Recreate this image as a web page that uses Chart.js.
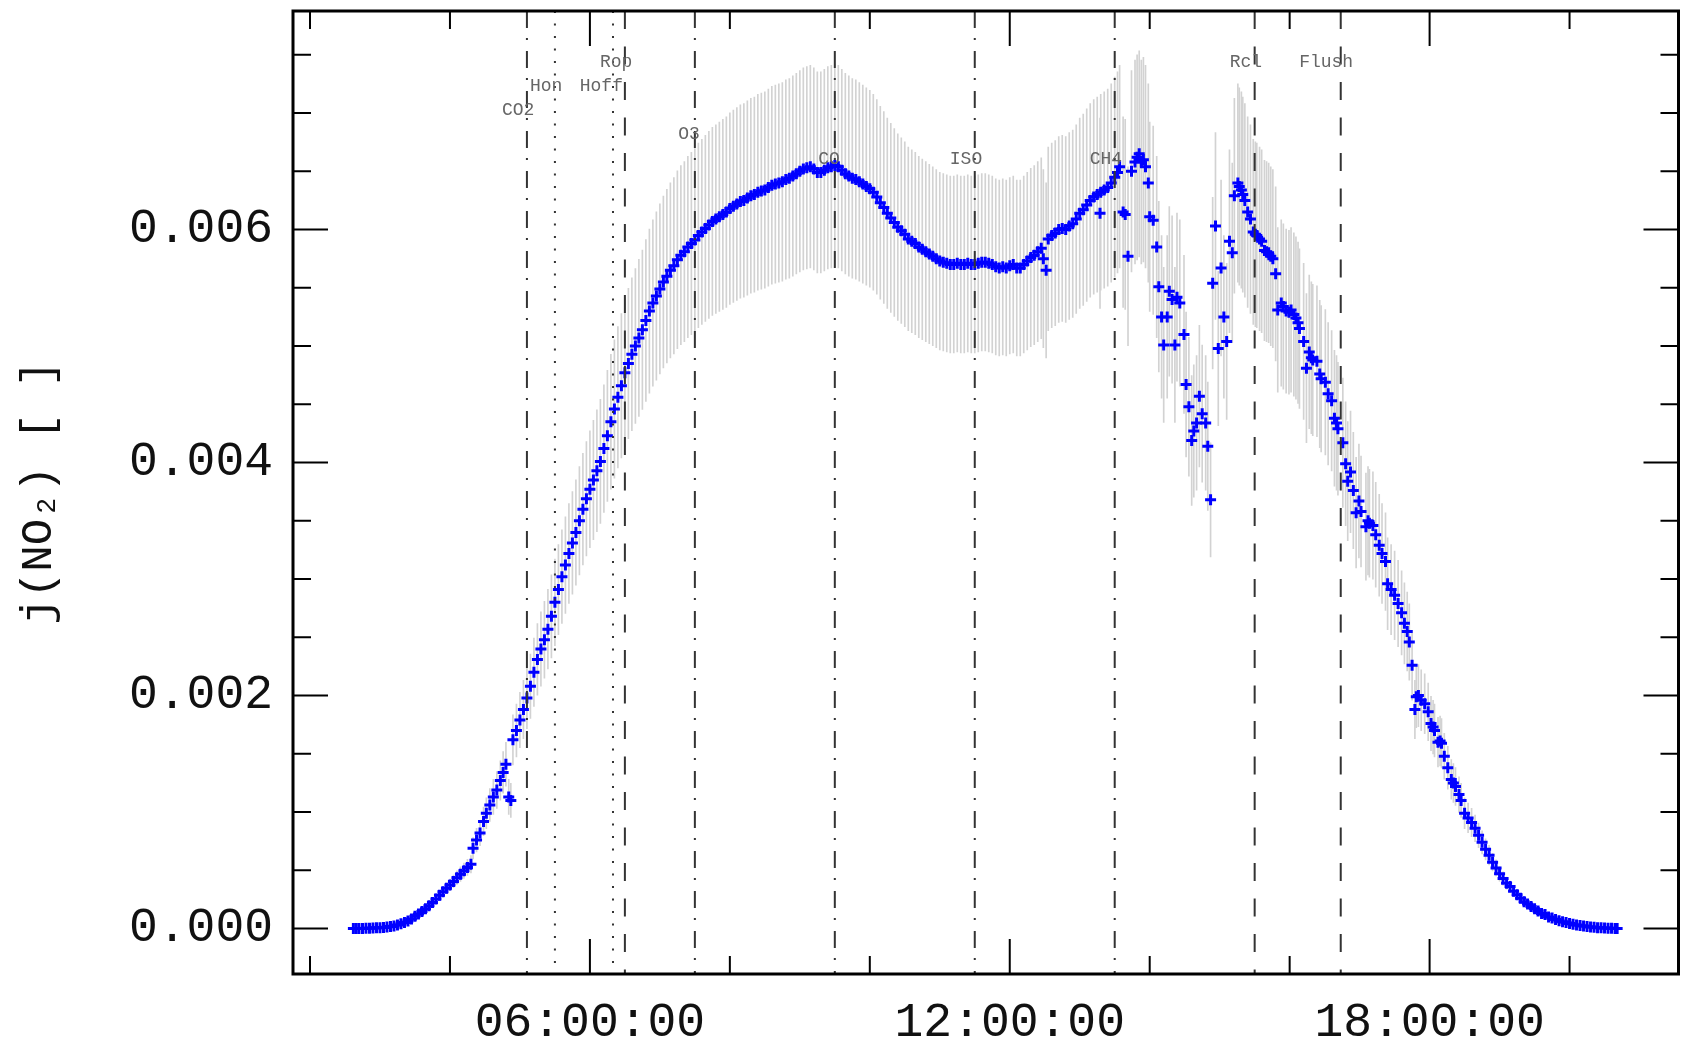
<!DOCTYPE html>
<html>
<head>
<meta charset="utf-8">
<title>j(NO2)</title>
<script src="https://cdn.jsdelivr.net/npm/chart.js@4.4.1/dist/chart.umd.min.js"></script>
<style>
  html, body { margin: 0; padding: 0; background: #fff; }
  #wrap { width: 1687px; height: 1047px; }
</style>
</head>
<body>
<div id="wrap"><canvas id="chart" width="1687" height="1047"></canvas></div>
<script>
// time of day in hours
const hours = [
  2.62, 2.66, 2.70, 2.75, 2.80, 2.85, 2.90, 2.95, 3.00, 3.05, 3.10, 3.15,
  3.20, 3.25, 3.30, 3.35, 3.40, 3.45, 3.50, 3.55, 3.60, 3.65, 3.70, 3.75, 3.80, 3.85, 3.90, 3.95,
  4.00, 4.05, 4.10, 4.15, 4.20, 4.25, 4.30, 4.33, 4.38, 4.43, 4.48, 4.52, 4.57, 4.62, 4.67, 4.72, 4.76, 4.80,
  4.84, 4.87, 4.90, 4.95, 5.00, 5.05, 5.10, 5.15, 5.20, 5.25, 5.30, 5.35, 5.40, 5.45, 5.50, 5.55, 5.60, 5.65, 5.70, 5.75, 5.80, 5.85, 5.90, 5.95,
  6.00, 6.05, 6.10, 6.15, 6.20, 6.25, 6.30, 6.35, 6.40, 6.45, 6.50, 6.55, 6.60, 6.65, 6.70, 6.75, 6.80, 6.85, 6.90, 6.95,
  7.00, 7.05, 7.10, 7.15, 7.20, 7.25, 7.30, 7.35, 7.40, 7.45, 7.50, 7.55, 7.60, 7.65, 7.70, 7.75, 7.80, 7.85, 7.90, 7.95,
  8.00, 8.05, 8.10, 8.15, 8.20, 8.25, 8.30, 8.35, 8.40, 8.45, 8.50, 8.55, 8.60, 8.65, 8.70, 8.75, 8.80, 8.85, 8.90, 8.95,
  9.00, 9.05, 9.10, 9.15, 9.20, 9.25, 9.30, 9.35, 9.40, 9.45, 9.50, 9.55, 9.60, 9.65, 9.70, 9.75, 9.80, 9.85, 9.90, 9.95,
  10.00, 10.05, 10.10, 10.15, 10.20, 10.25, 10.30, 10.35, 10.40, 10.45, 10.50, 10.55, 10.60, 10.65, 10.70, 10.75, 10.80, 10.85, 10.90, 10.95,
  11.00, 11.05, 11.10, 11.15, 11.20, 11.25, 11.30, 11.35, 11.40, 11.45, 11.50, 11.55, 11.60, 11.65, 11.70, 11.75, 11.80, 11.85, 11.90, 11.95,
  12.00, 12.05, 12.10, 12.15, 12.20, 12.25, 12.30, 12.35, 12.40, 12.45, 12.48, 12.52, 12.55, 12.60, 12.65, 12.70, 12.75, 12.80, 12.85, 12.90, 12.95,
  13.00, 13.05, 13.10, 13.15, 13.20, 13.25, 13.29, 13.30, 13.35, 13.40, 13.45, 13.50, 13.54, 13.57,
  13.62, 13.65, 13.69, 13.74, 13.79, 13.82, 13.85, 13.88, 13.91, 13.94, 13.98, 14.00, 14.05, 14.10,
  14.13, 14.17, 14.20, 14.25, 14.28, 14.32, 14.36, 14.39, 14.43, 14.49, 14.52, 14.56, 14.60,
  14.63, 14.67, 14.71, 14.75, 14.80, 14.83, 14.87, 14.90, 14.94, 14.98, 15.02, 15.06, 15.10,
  15.14, 15.18, 15.21, 15.26, 15.28, 15.31, 15.33, 15.36, 15.40, 15.44, 15.48, 15.51, 15.53, 15.57, 15.60,
  15.64, 15.67, 15.70, 15.73, 15.76, 15.80, 15.83, 15.88, 15.91, 15.95, 15.99, 16.02, 16.06, 16.09, 16.12, 16.14,
  16.20, 16.24, 16.28, 16.31, 16.33, 16.39, 16.43, 16.45, 16.51, 16.55, 16.60, 16.64, 16.67,
  16.69, 16.76, 16.80, 16.83, 16.87, 16.91, 16.95, 16.99, 17.02, 17.09, 17.12, 17.14,
  17.19, 17.23, 17.28, 17.32, 17.37, 17.40, 17.45, 17.50, 17.55, 17.60, 17.64, 17.68, 17.71,
  17.75, 17.79, 17.81, 17.84, 17.88, 17.93, 17.98, 18.02, 18.05, 18.07, 18.12, 18.15, 18.17,
  18.21, 18.26, 18.31, 18.34, 18.37, 18.42, 18.45, 18.50, 18.55, 18.60, 18.65, 18.70, 18.75, 18.80, 18.85, 18.90, 18.95,
  19.00, 19.05, 19.10, 19.15, 19.20, 19.25, 19.30, 19.35, 19.40, 19.45, 19.50, 19.55, 19.60, 19.65, 19.70, 19.75, 19.80, 19.85, 19.90, 19.95,
  20.00, 20.05, 20.10, 20.15, 20.20, 20.25, 20.30, 20.35, 20.40, 20.45, 20.50, 20.55, 20.60, 20.65, 20.68
];

// j(NO2), same order as hours
const jNO2 = [
  0, 0, 0, 0.000001, 0.000002, 0.000003, 0.000004, 0.000006, 0.000008, 0.000010, 0.000013, 0.000017,
  0.000023, 0.000031, 0.000041, 0.000052, 0.000064, 0.000082, 0.000105, 0.000125, 0.000146, 0.000170, 0.000196, 0.000224, 0.000254, 0.000285, 0.000315, 0.000345,
  0.000375, 0.000405, 0.000437, 0.000467, 0.000497, 0.000525, 0.000552, 0.00069, 0.00076, 0.00082, 0.00092, 0.00099, 0.00106, 0.00113, 0.00119, 0.00127, 0.00134, 0.00141,
  0.00113, 0.00110, 0.00162, 0.00170, 0.00179, 0.00188, 0.00198, 0.00208, 0.00220, 0.00231, 0.00240, 0.00248, 0.00257, 0.00268, 0.00280, 0.00291, 0.00302, 0.00312, 0.00322, 0.00331, 0.00340, 0.00350, 0.00360, 0.00369,
  0.00377, 0.00385, 0.00393, 0.00401, 0.00412, 0.00423, 0.00435, 0.00446, 0.00456, 0.00466, 0.00477, 0.00485, 0.00493, 0.00500, 0.00507, 0.00514, 0.00522, 0.00530, 0.00537, 0.00543,
  0.00549, 0.00555, 0.00560, 0.00565, 0.00569, 0.00574, 0.00578, 0.00581, 0.00585, 0.00588, 0.00591, 0.00595, 0.00598, 0.00601, 0.00604, 0.00607, 0.00609, 0.00611, 0.00613, 0.00615,
  0.00618, 0.00620, 0.00622, 0.00624, 0.00625, 0.00627, 0.00629, 0.00630, 0.00632, 0.00633, 0.00634, 0.00636, 0.00638, 0.00639, 0.00640, 0.00641, 0.00643, 0.00644, 0.00646, 0.00648,
  0.00650, 0.00652, 0.00653, 0.00654, 0.00652, 0.00649, 0.00649, 0.00651, 0.00653, 0.00654, 0.00655, 0.00654, 0.00651, 0.00648, 0.00646, 0.00644, 0.00643, 0.00641, 0.00639, 0.00637,
  0.00635, 0.00632, 0.00628, 0.00623, 0.00619, 0.00614, 0.00610, 0.00606, 0.00602, 0.00599, 0.00596, 0.00592, 0.00590, 0.00588, 0.00585, 0.00583, 0.00581, 0.00579, 0.00577, 0.00575,
  0.00573, 0.00572, 0.00571, 0.00570, 0.00570, 0.00571, 0.00570, 0.00570, 0.00571, 0.00570, 0.00570, 0.00571, 0.00572, 0.00572, 0.00571, 0.00570, 0.00568, 0.00567, 0.00568, 0.00567,
  0.00569, 0.00570, 0.00567, 0.00567, 0.00570, 0.00573, 0.00576, 0.00578, 0.00581, 0.00584, 0.00575, 0.00565, 0.00592, 0.00595, 0.00597, 0.00600, 0.00601, 0.00600, 0.00603, 0.00605, 0.00609,
  0.00614, 0.00617, 0.00621, 0.00625, 0.00628, 0.00630, 0.00614, 0.00632, 0.00634, 0.00636, 0.00640, 0.00645, 0.00649, 0.00654,
  0.00615, 0.00613, 0.00577, 0.00650, 0.00658, 0.00662, 0.00665, 0.00658, 0.00660, 0.00654, 0.00640, 0.00611, 0.00608, 0.00585,
  0.00551, 0.00525, 0.00501, 0.00525, 0.00547, 0.00540, 0.00501, 0.00542, 0.00537, 0.00510, 0.00467, 0.00448, 0.00419,
  0.00427, 0.00434, 0.00457, 0.00442, 0.00434, 0.00414, 0.00368, 0.00554, 0.00603, 0.00498, 0.00567, 0.00525, 0.00504,
  0.00590, 0.00580, 0.00629, 0.00640, 0.00637, 0.00634, 0.00630, 0.00625, 0.00615, 0.00609, 0.00598, 0.00596, 0.00595, 0.00592, 0.00590,
  0.00582, 0.00581, 0.00580, 0.00577, 0.00575, 0.00562, 0.00531, 0.00537, 0.00534, 0.00530, 0.00529, 0.00531, 0.00527, 0.00524, 0.00520, 0.00515,
  0.00504, 0.00481, 0.00495, 0.00490, 0.00488, 0.00487, 0.00476, 0.00472, 0.00469, 0.00459, 0.00453, 0.00438, 0.00434,
  0.00429, 0.00417, 0.00399, 0.00384, 0.00392, 0.00376, 0.00357, 0.00367, 0.00358, 0.00345, 0.00350, 0.00348,
  0.00346, 0.00338, 0.00329, 0.00322, 0.00315, 0.00296, 0.00291, 0.00286, 0.00279, 0.00271, 0.00262, 0.00255, 0.00246,
  0.00226, 0.00188, 0.00199, 0.00200, 0.00196, 0.00193, 0.00186, 0.00176, 0.00173, 0.00170, 0.00160, 0.00161, 0.00159,
  0.00148, 0.00138, 0.00128, 0.00125, 0.00122, 0.00115, 0.00110, 0.00099, 0.00095, 0.00091, 0.00086, 0.00080, 0.00074, 0.00068, 0.00063, 0.00057, 0.00052,
  0.00047, 0.00043, 0.00039, 0.00036, 0.00032, 0.00029, 0.00026, 0.00023, 0.00021, 0.00019, 0.00017, 0.00015, 0.00013, 0.00012, 0.00010, 0.000090, 0.000078, 0.000068, 0.000059, 0.000051,
  0.000044, 0.000037, 0.000031, 0.000026, 0.000021, 0.000017, 0.000014, 0.000011, 0.000008, 0.000006, 0.000004, 0.000003, 0.000002, 0.000001, 0.000001
];

// error bars are a fixed relative uncertainty of the measurement
const relUncertainty = 0.133;

// injections / events marked by vertical lines
const eventNames = ['CO2', 'Hon', 'Hoff', 'Rop', 'O3', 'CO', 'ISO', 'CH4', 'Rcl', 'Flush'];
const eventHours = [5.10, 5.50, 6.33, 6.50, 7.50, 9.50, 11.50, 13.50, 15.50, 16.73];

// labelled ticks
const labelledHours = [6, 12, 18];
const labelledJ = [0, 0.002, 0.004, 0.006];

const FONT = "'Liberation Mono', 'DejaVu Sans Mono', monospace";

const fmtHour = h => String(h).padStart(2, '0') + ':00:00';
const isLabelledJ = v => labelledJ.some(l => Math.abs(l - v) < 1e-9);

const points = hours.map((h, i) => ({ x: h, y: jNO2[i] }));
const errorBars = hours.map((h, i) => ({ x: h, y: [jNO2[i] * (1 - relUncertainty), jNO2[i] * (1 + relUncertainty)] }));

// frame + inward ticks on all four sides
const axesFrame = {
    id: 'axesFrame',
    afterDraw(chart) {
        const { ctx, chartArea: a, scales: { x, y } } = chart;
        ctx.save();
        ctx.strokeStyle = '#000';
        ctx.lineWidth = 2;
        ctx.beginPath();
        x.ticks.forEach(t => {
            const px = x.getPixelForValue(t.value);
            const len = labelledHours.includes(t.value) ? 35 : 18;
            ctx.moveTo(px, a.bottom); ctx.lineTo(px, a.bottom - len);
            ctx.moveTo(px, a.top); ctx.lineTo(px, a.top + len);
        });
        y.ticks.forEach(t => {
            const py = y.getPixelForValue(t.value);
            const len = isLabelledJ(t.value) ? 35 : 18;
            ctx.moveTo(a.left, py); ctx.lineTo(a.left + len, py);
            ctx.moveTo(a.right, py); ctx.lineTo(a.right - len, py);
        });
        ctx.stroke();
        ctx.lineWidth = 3;
        ctx.strokeRect(a.left, a.top, a.right - a.left, a.bottom - a.top);
        ctx.restore();
    }
};

const eventLines = {
    id: 'eventLines',
    afterDatasetsDraw(chart, args, opts) {
        const { ctx, chartArea: a, scales: { x } } = chart;
        ctx.save();
        ctx.strokeStyle = '#333';
        ctx.lineWidth = 2;
        eventNames.forEach((name, i) => {
            const px = x.getPixelForValue(eventHours[i]);
            ctx.setLineDash(opts.dashes[opts.styles[name]]);
            ctx.beginPath();
            ctx.moveTo(px, a.top);
            ctx.lineTo(px, a.bottom);
            ctx.stroke();
        });
        ctx.setLineDash([]);
        ctx.font = '18px ' + FONT;
        ctx.fillStyle = '#666';
        ctx.textAlign = 'center';
        ctx.textBaseline = 'middle';
        eventNames.forEach((name, i) => {
            const px = x.getPixelForValue(eventHours[i]);
            const w = ctx.measureText(name).width;
            ctx.fillText(name, px - 0.27 * w, a.top + opts.rowTop + opts.rows[name] * opts.rowGap);
        });
        ctx.restore();
    }
};

const ctx = document.getElementById('chart').getContext('2d');

new Chart(ctx, {
    type: 'scatter',
    data: {
        datasets: [
            {
                type: 'scatter',
                data: points,
                pointStyle: 'cross',
                pointRadius: 5.5,
                pointBorderWidth: 3,
                borderColor: '#0000ff',
                backgroundColor: '#0000ff',
                order: 0
            },
            {
                type: 'bar',
                data: errorBars,
                backgroundColor: '#d2d2d2',
                borderWidth: 0,
                barThickness: 1,
                order: 1
            }
        ]
    },
    options: {
        responsive: false,
        animation: false,
        devicePixelRatio: 1,
        layout: { padding: { top: 11, right: 8, left: 0, bottom: 0 } },
        plugins: {
            legend: { display: false },
            tooltip: { enabled: false },
            eventLines: {
                dashes: { dashdot: [17, 10, 2, 11], dot: [2, 10.5], dash: [18, 17.5] },
                styles: { CO2: 'dashdot', Hon: 'dot', Hoff: 'dot', Rop: 'dash', O3: 'dashdot', CO: 'dashdot', ISO: 'dashdot', CH4: 'dashdot', Rcl: 'dash', Flush: 'dash' },
                rows: { Rop: 0, Rcl: 0, Flush: 0, Hon: 1, Hoff: 1, CO2: 2, O3: 3, CO: 4, ISO: 4, CH4: 4 },
                rowTop: 51,
                rowGap: 24.2
            }
        },
        scales: {
            x: {
                type: 'linear',
                min: 1.757,
                max: 21.557,
                offset: false,
                grid: { display: false },
                border: { display: false },
                afterFit: s => { s.height = 73; s.paddingLeft = 0; s.paddingRight = 0; },
                ticks: {
                    stepSize: 2,
                    includeBounds: false,
                    autoSkip: false,
                    maxRotation: 0,
                    padding: 12,
                    color: '#111',
                    font: { family: FONT, size: 48 },
                    callback: v => labelledHours.includes(v) ? fmtHour(v) : ''
                }
            },
            y: {
                type: 'linear',
                min: -0.00039,
                max: 0.007876,
                grid: { display: false },
                border: { display: false },
                afterFit: s => { s.width = 293; s.paddingTop = 0; s.paddingBottom = 0; },
                ticks: {
                    stepSize: 0.0005,
                    includeBounds: false,
                    autoSkip: false,
                    padding: 12,
                    color: '#111',
                    font: { family: FONT, size: 48 },
                    callback: v => isLabelledJ(v) ? Math.abs(v).toFixed(3) : ''
                },
                title: {
                    display: true,
                    text: 'j(NO\u2082) [ ]',
                    color: '#111',
                    font: { family: FONT, size: 44, lineHeight: 1.2 },
                    padding: { top: 13, bottom: 0 }
                }
            }
        }
    },
    plugins: [axesFrame, eventLines]
});
</script>
</body>
</html>
